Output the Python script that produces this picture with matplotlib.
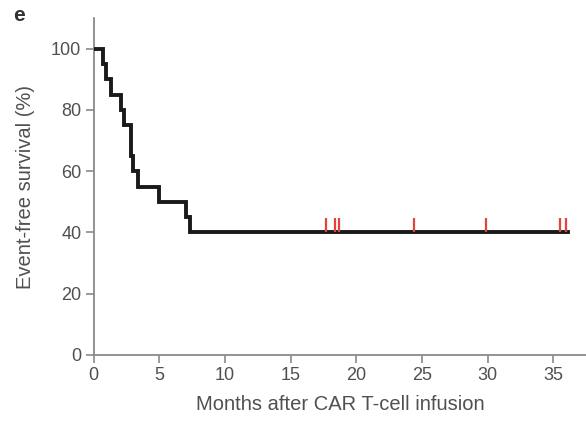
"""
Kaplan-Meier style event-free survival curve after CAR T-cell infusion.
"""
import numpy as np
import matplotlib
matplotlib.use("Agg")
import matplotlib.pyplot as plt

plt.rcParams["font.family"] = ["Liberation Sans", "DejaVu Sans"]

# Step curve: time (months) at which each level starts, and survival (%)
step_months = [0.0, 0.7, 0.9, 1.3, 2.1, 2.3, 2.8, 3.0, 3.4, 5.0, 7.0, 7.3, 36.1]
step_survival = [100, 95, 90, 85, 80, 75, 65, 60, 55, 50, 45, 40, 40]

# Censored observations (months) on the 40% plateau
censor_months = [17.7, 18.4, 18.7, 24.4, 29.9, 35.5, 36.0]
censor_level = 40

x_ticks = [0, 5, 10, 15, 20, 25, 30, 35]
y_ticks = [0, 20, 40, 60, 80, 100]

grey = "#8a8a8a"
label_grey = "#505050"

fig = plt.figure(figsize=(5.86, 4.21), dpi=100)
ax = fig.add_axes([0.160, 0.157, 0.840, 0.800])

ax.step(step_months, step_survival, where="post", color="#1a1a1a",
        linewidth=2.8, solid_joinstyle="miter", zorder=3)
ax.vlines(censor_months, censor_level, censor_level + 4.8,
          color="#e0443c", linewidth=1.6, zorder=4)

ax.set_xlim(0, 37.5)
ax.set_ylim(0, 110)
ax.set_xticks(x_ticks)
ax.set_yticks(y_ticks)

for side in ["top", "right"]:
    ax.spines[side].set_visible(False)
for side in ["left", "bottom"]:
    ax.spines[side].set_color(grey)
    ax.spines[side].set_linewidth(1.3)

ax.tick_params(axis="both", colors=grey, length=6, width=1.2,
               labelsize=13, labelcolor=label_grey, pad=3)

ax.set_xlabel("Months after CAR T-cell infusion", fontsize=14.5,
              color=label_grey)
ax.set_ylabel("Event-free survival (%)", fontsize=14.5, color=label_grey)
ax.xaxis.set_label_coords(0.5, -0.118)
ax.yaxis.set_label_coords(-0.12, 0.5)

fig.text(0.022, 0.962, "e", fontsize=15, fontweight="bold",
         color="#333333", va="center", ha="left")

fig.savefig("out.png", dpi=100)
